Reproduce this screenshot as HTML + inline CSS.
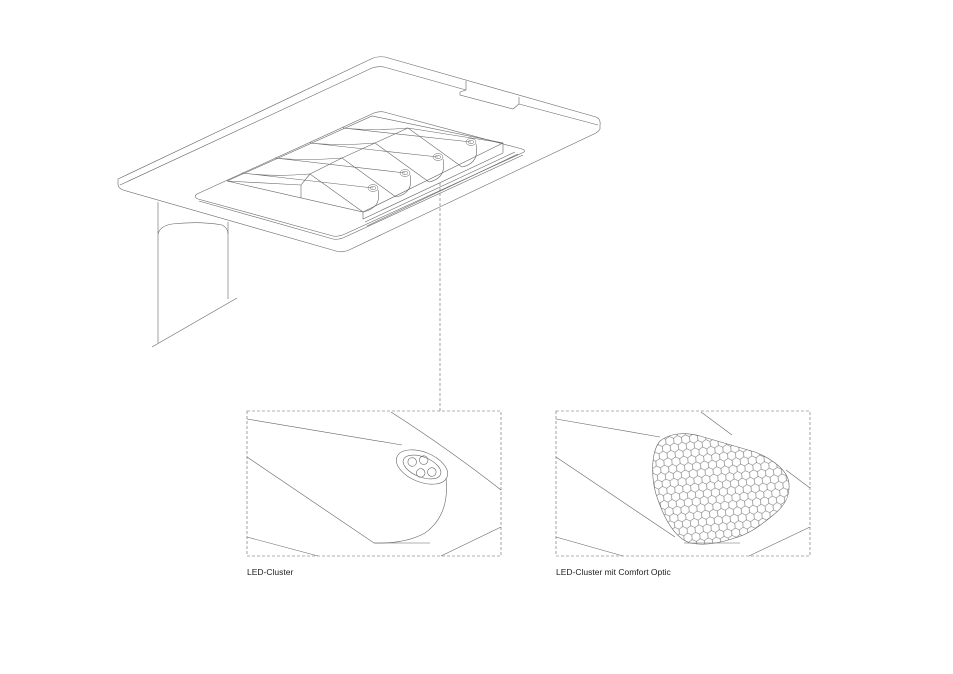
<!DOCTYPE html>
<html><head><meta charset="utf-8"><style>
html,body{margin:0;padding:0;background:#fff;}
svg{display:block}
text{font-family:"Liberation Sans",sans-serif;font-size:8.5px;fill:#222}
</style></head><body>
<svg width="953" height="674" viewBox="0 0 953 674" xmlns="http://www.w3.org/2000/svg">
<defs>
<pattern id="hex" width="8" height="14" patternUnits="userSpaceOnUse" patternTransform="rotate(-6)">
<path d="M0,2.3 L4,0 L8,2.3 M0,2.3 L0,7 L4,9.3 L8,7 L8,2.3 M4,9.3 L4,14" fill="none" stroke="#555" stroke-width="0.5"/>
</pattern>
<clipPath id="blob"><path d="M660,441 C670,433 685,432 700,436 L755,452 C772,459 788,470 789,484 C790,497 784,507 772,516 C760,526 750,533 738,537 C720,543 705,546 690,543 C675,538 665,520 658,500 C651,482 650,453 660,441 Z"/></clipPath>
</defs>
<g fill="none" stroke="#666" stroke-width="0.6">
<!-- slab -->
<path d="M118,179 L371,59 Q377,56 385,57 L596,117 Q601,119 600,125 L600,129 Q599,131 596,133 L349,250 Q342,253 336,251 L123,190 Q118,188 118,184 Z"/>
<path d="M120,185 L372,68 Q377,66 384,67 L466,90 M519,104 L598,125"/>
<path d="M466,81 L466,90 M519,97 L519,104 M460,92 L466,90 M460,92 L460,95 L513,109 L519,104"/>
<!-- panel -->
<path d="M197,194 L374,113 Q379,111 384,112 L522,149 Q527,151 522,153 L345,234 Q338,237 333,236 L198,199 Q193,197 197,194 Z"/>
<path d="M199,201 L333,239 Q339,240 345,237 L523,155"/>
<path d="M365,222 L515,152 M367,226 L518,154"/>
<!-- module -->
<path d="M227,181 L372,116 L503,143 L503,153 M227,181 L363,212 L503,143 M363,212 L363,219 L503,153"/>
<path d="M301,185 L301,198 M227,181 L301,185 L310,174"/>
<path d="M242,173 Q270,177 310,174 L363,212 M242,173 L373,188"/>
<path d="M275,158 Q305,161 342,158 L396,197 M275,158 L405,173 M310,174 L342,158"/>
<path d="M310,143 Q340,146 375,143 L429,182 M310,143 L438,157 M342,158 L375,143"/>
<path d="M343,128 Q372,131 408,128 L462,167 M343,128 L471,142 M375,143 L408,128 M408,128 L503,143"/>
<path d="M378,190 Q382,208 363,212 M410,175 Q414,193 396,197 M443,159 Q447,178 429,182 M476,144 Q480,163 462,167"/>
<g stroke-width="0.5">
<ellipse cx="373" cy="188" rx="5" ry="3.5"/><ellipse cx="373" cy="188" rx="2.8" ry="1.8"/>
<ellipse cx="405" cy="173" rx="5" ry="3.5"/><ellipse cx="405" cy="173" rx="2.8" ry="1.8"/>
<ellipse cx="438" cy="157" rx="5" ry="3.5"/><ellipse cx="438" cy="157" rx="2.8" ry="1.8"/>
<ellipse cx="471" cy="142" rx="5" ry="3.5"/><ellipse cx="471" cy="142" rx="2.8" ry="1.8"/>
</g>
<!-- leg -->
<path d="M158,202 L158,343 M228,222 L228,299 M152,347 L237,298"/>
<path d="M158,234 Q160,226 172,224 Q200,221 222,225 Q228,228 228,234"/>
<!-- dashed connector -->
<path d="M440,183 L440,411" stroke-dasharray="3,2"/>
<!-- boxes -->
<rect x="247" y="411" width="254" height="145" stroke-dasharray="3,2"/>
<rect x="556" y="411" width="254" height="145" stroke-dasharray="3,2"/>
<!-- box1 -->
<path d="M247,419 L402,445"/>
<path d="M391,412 Q450,450 501,490"/>
<path d="M247,457 L374,543 L430,543"/>
<path d="M446,478 Q450,515 425,533 Q405,544 374,543"/>
<path d="M247,537 L318,556 M441,556 L501,527"/>
<g transform="rotate(22 422 467)">
<ellipse cx="422" cy="467" rx="27" ry="15"/>
<ellipse cx="422" cy="467" rx="20" ry="10"/>
<circle cx="411" cy="466" r="4.3"/><circle cx="421" cy="460" r="4.3"/><circle cx="423" cy="473" r="4.3"/><circle cx="433" cy="468" r="4.3"/>
</g>
<!-- box2 lines -->
<path d="M556,419 L660,437 M701,412 L732,435 M786,470 L810,488 M556,457 L675,537"/>
<path d="M556,537 L623,556 M749,556 L810,527 M684,543 L740,543"/>
</g>
<rect x="640" y="425" width="160" height="125" fill="url(#hex)" clip-path="url(#blob)"/>
<path d="M660,441 C670,433 685,432 700,436 L755,452 C772,459 788,470 789,484 C790,497 784,507 772,516 C760,526 750,533 738,537 C720,543 705,546 690,543 C675,538 665,520 658,500 C651,482 650,453 660,441 Z" fill="none" stroke="#666" stroke-width="0.6"/>
<text x="247" y="575">LED-Cluster</text>
<text x="556" y="575">LED-Cluster mit Comfort Optic</text>
</svg>
</body></html>
